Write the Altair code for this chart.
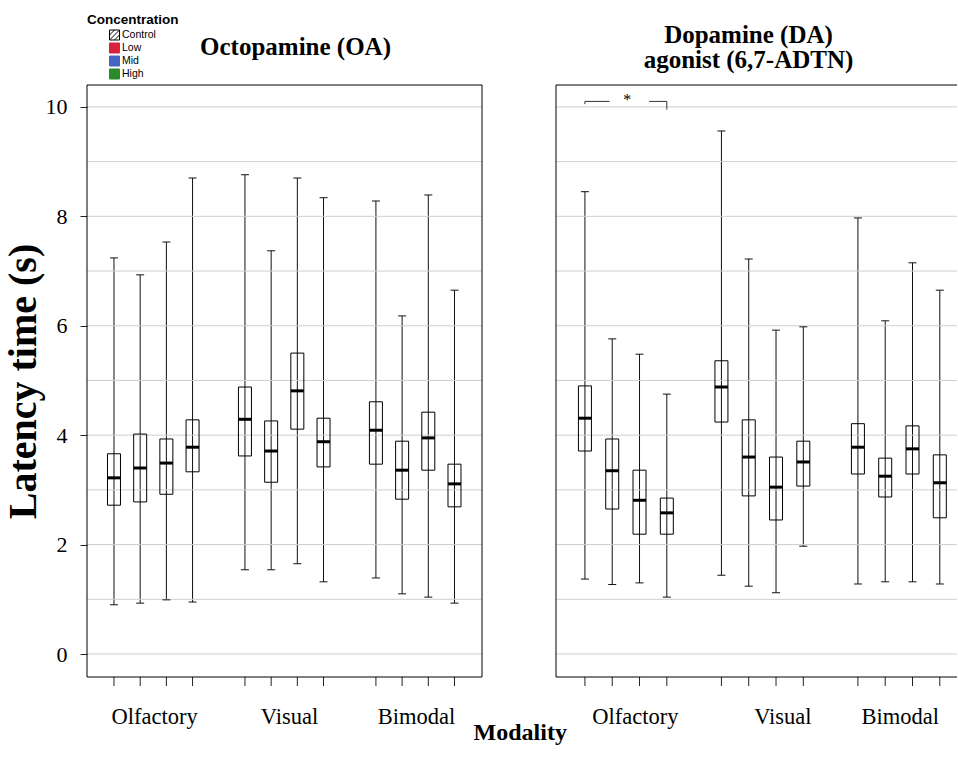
import altair as alt
import pandas as pd

modalities = ["Olfactory", "Visual", "Bimodal"]
concentrations = ["Control", "Low", "Mid", "High"]
legend_colors = ["#ffffff", "#d8213c", "#4665c3", "#2b8a2b"]
legend_strokes = ["#000000", "#d8213c", "#4665c3", "#2b8a2b"]

# order: Olfactory C,L,M,H | Visual C,L,M,H | Bimodal C,L,M,H
oa_lo = [0.90, 0.93, 0.99, 0.95, 1.54, 1.54, 1.65, 1.32, 1.39, 1.10, 1.04, 0.93]
oa_q1 = [2.72, 2.78, 2.92, 3.33, 3.62, 3.14, 4.11, 3.42, 3.47, 2.83, 3.36, 2.69]
oa_med = [3.22, 3.40, 3.49, 3.78, 4.29, 3.71, 4.81, 3.88, 4.09, 3.36, 3.95, 3.11]
oa_q3 = [3.66, 4.02, 3.93, 4.28, 4.88, 4.26, 5.50, 4.31, 4.61, 3.89, 4.42, 3.47]
oa_hi = [7.24, 6.93, 7.53, 8.70, 8.76, 7.37, 8.70, 8.34, 8.28, 6.18, 8.39, 6.65]

da_lo = [1.37, 1.27, 1.30, 1.04, 1.44, 1.24, 1.12, 1.97, 1.28, 1.32, 1.32, 1.28]
da_q1 = [3.71, 2.65, 2.19, 2.19, 4.24, 2.89, 2.45, 3.07, 3.29, 2.87, 3.29, 2.49]
da_med = [4.31, 3.35, 2.81, 2.58, 4.88, 3.60, 3.05, 3.51, 3.78, 3.25, 3.75, 3.13]
da_q3 = [4.90, 3.93, 3.36, 2.85, 5.36, 4.28, 3.60, 3.89, 4.21, 3.58, 4.17, 3.64]
da_hi = [8.45, 5.76, 5.48, 4.75, 9.56, 7.22, 5.92, 5.98, 7.97, 6.09, 7.15, 6.65]

# positions of the modality labels on the slot axis (as printed in each panel)
oa_label_pos = [1.55, 6.7, 11.55]
da_label_pos = [1.85, 7.25, 11.55]

y_ticks = [0, 2, 4, 6, 8, 10]
y_grid = [0, 1, 2, 3, 4, 5, 6, 7, 8, 9, 10]

# significance bracket (DA, Olfactory: Control vs High)
sig_from = 0
sig_to = 3
sig_level = 10.1
sig_text = "*"

SERIF = "Liberation Serif"
SANS = "Liberation Sans"
H = 592
Y_DOMAIN = [-0.42, 10.40]


def make_df(lo, q1, med, q3, hi):
    rows = []
    for gi, m in enumerate(modalities):
        for ci, c in enumerate(concentrations):
            k = gi * 4 + ci
            rows.append(dict(modality=m, conc=c, slot=int(gi * 5 + ci),
                             lo=lo[k], q1=q1[k], med=med[k], q3=q3[k], hi=hi[k]))
    return pd.DataFrame(rows)


def panel(df, width, xdom, left, title, title_offset, title_dx, label_pos):
    xs = alt.Scale(domain=xdom, nice=False, zero=False, padding=0)
    ys = alt.Scale(domain=Y_DOMAIN, nice=False, zero=False, padding=0)
    if left:
        yaxis = alt.Axis(values=y_ticks, title="Latency time (s)", grid=False, domain=False,
                         tickSize=7, tickColor="#222", labelFont=SERIF, labelFontSize=22,
                         labelColor="black", labelPadding=13, titleFont=SERIF,
                         titleFontSize=40, titleFontWeight="bold", titleColor="black",
                         titlePadding=2)
    else:
        yaxis = alt.Axis(values=y_ticks, title=None, labels=False, grid=False, domain=False,
                         tickSize=9, tickColor="#222")

    base = alt.Chart(df)
    Xn = alt.X("slot:Q", scale=xs, axis=None)
    whisk = base.mark_rule(color="#111", strokeWidth=1).encode(
        x=Xn, y=alt.Y("lo:Q", scale=ys, axis=yaxis), y2="hi:Q")
    xticks = base.mark_rule(color="#222", strokeWidth=1).encode(
        x=Xn, y=alt.value(H), y2=alt.value(H + 9))
    grid = alt.Chart(pd.DataFrame({"g": y_grid})).mark_rule(color="#cfcfcf", strokeWidth=1).encode(
        y=alt.Y("g:Q", scale=ys, axis=None))
    cap_lo = base.mark_tick(orient="horizontal", size=8, thickness=1, color="#111", opacity=1).encode(
        x=Xn, y=alt.Y("lo:Q", scale=ys, axis=None))
    cap_hi = base.mark_tick(orient="horizontal", size=8, thickness=1, color="#111", opacity=1).encode(
        x=Xn, y=alt.Y("hi:Q", scale=ys, axis=None))
    box = base.mark_bar(size=13, fill="white", fillOpacity=0, stroke="black", strokeWidth=1).encode(
        x=Xn, y=alt.Y("q1:Q", scale=ys, axis=None), y2="q3:Q")
    med = base.mark_tick(orient="horizontal", size=13, thickness=3, color="black", opacity=1).encode(
        x=Xn, y=alt.Y("med:Q", scale=ys, axis=None))

    labs = alt.Chart(pd.DataFrame({"lx": label_pos, "name": modalities})).mark_text(
        font=SERIF, fontSize=22.5, baseline="alphabetic", color="black").encode(
        x=alt.X("lx:Q", scale=xs, axis=None), y=alt.value(H + 47), text="name:N")

    one = pd.DataFrame({"a": [0]})
    top = alt.Chart(one).mark_rule(color="black", strokeWidth=1).encode(
        x=alt.value(0), x2=alt.value(width), y=alt.value(0))
    bottom = alt.Chart(one).mark_rule(color="black", strokeWidth=1).encode(
        x=alt.value(0), x2=alt.value(width), y=alt.value(H))
    lft = alt.Chart(one).mark_rule(color="black", strokeWidth=1).encode(
        x=alt.value(0), y=alt.value(0), y2=alt.value(H))

    layers = [whisk, grid, xticks, cap_lo, cap_hi, box, med, labs, top, bottom, lft]

    if left:
        rgt = alt.Chart(one).mark_rule(color="black", strokeWidth=1).encode(
            x=alt.value(width), y=alt.value(0), y2=alt.value(H))
        leg_df = pd.DataFrame({"conc": concentrations})
        hatch = "M-1,-1H1V1H-1Z M-1,1L1,-1 M-1,0L0,-1 M0,1L1,0"
        leg = alt.Legend(title="Concentration", orient="none", legendX=0, legendY=-72,
                         titleFont=SANS, titleFontSize=13.5, titleFontWeight="bold",
                         titleColor="black", titlePadding=3, labelFont=SANS, labelFontSize=10.5,
                         labelColor="black", symbolOffset=22, rowPadding=-2.5, labelOffset=2,
                         symbolSize=100, symbolStrokeWidth=1, padding=0)
        legend_layer = alt.Chart(leg_df).transform_filter("false").mark_point(
            filled=True, opacity=1).encode(
            x=Xn, y=alt.Y("conc:N", axis=None),
            fill=alt.Fill("conc:N", scale=alt.Scale(domain=concentrations, range=legend_colors), legend=leg),
            stroke=alt.Stroke("conc:N", scale=alt.Scale(domain=concentrations, range=legend_strokes), legend=leg),
            shape=alt.Shape("conc:N", scale=alt.Scale(domain=concentrations,
                                                        range=[hatch, "square", "square", "square"]), legend=leg))
        layers += [rgt, legend_layer]
    else:
        gap_l = 0.9
        gap_r = 0.65
        segs = pd.DataFrame({
            "x1": [sig_from, sig_to - gap_r, sig_from, sig_to],
            "x2": [sig_from + gap_l, sig_to, sig_from, sig_to],
            "y1": [sig_level, sig_level, sig_level, sig_level],
            "y2": [sig_level, sig_level, sig_level - 0.05, sig_level - 0.15],
        })
        br = alt.Chart(segs).mark_rule(color="#333", strokeWidth=1).encode(
            x=alt.X("x1:Q", scale=xs, axis=None), x2="x2:Q",
            y=alt.Y("y1:Q", scale=ys, axis=None), y2="y2:Q")
        star = alt.Chart(pd.DataFrame({"sx": [(sig_from + sig_to) / 2 + 0.05], "sy": [sig_level],
                                       "t": [sig_text]})).mark_text(
            font=SERIF, fontSize=16, baseline="middle", dy=-1, color="black").encode(
            x=alt.X("sx:Q", scale=xs, axis=None), y=alt.Y("sy:Q", scale=ys, axis=None), text="t:N")
        layers += [br, star]

    ch = alt.layer(*layers).properties(
        width=width, height=H,
        title=alt.TitleParams(text=title, font=SERIF, fontSize=25, fontWeight="bold",
                              color="black", anchor="middle", offset=title_offset, dx=title_dx,
                              lineHeight=25))
    return ch


left = panel(make_df(oa_lo, oa_q1, oa_med, oa_q3, oa_hi), 395, [-1.03, 14.05], True,
             "Octopamine (OA)", 25, 11, oa_label_pos)
right = panel(make_df(da_lo, da_q1, da_med, da_q3, da_hi), 401, [-1.06, 13.63], False,
              ["Dopamine (DA)", "agonist (6,7-ADTN)"], 12, -8, da_label_pos)

chart = alt.hconcat(left, right, spacing=72).properties(
    title=alt.TitleParams(text="Modality", orient="bottom", anchor="middle", font=SERIF,
                          fontSize=24, fontWeight="bold", color="black", offset=-8, dx=40)
).configure(
    padding={"left": 3, "top": 13, "right": 0, "bottom": 5},
    background="white"
).configure_view(strokeOpacity=0)

chart.save("out.html", embed_options={"renderer": "svg", "actions": False})
